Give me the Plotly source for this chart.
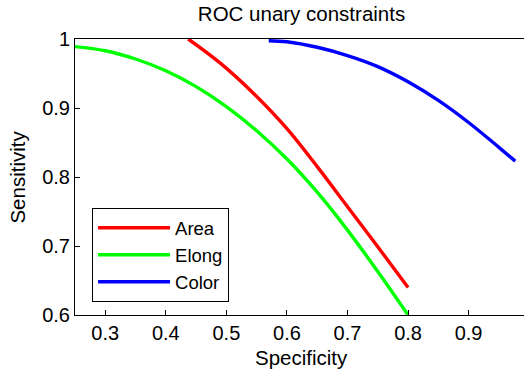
import plotly.graph_objects as go

# Data
area_x = [0.437, 0.49, 0.545, 0.60, 0.65, 0.70, 0.75, 0.80]
area_y = [1.0, 0.965, 0.921, 0.870, 0.815, 0.757, 0.699, 0.640]

elong_x = [0.25, 0.30, 0.35, 0.40, 0.45, 0.50, 0.55, 0.60, 0.65, 0.70, 0.75, 0.80]
elong_y = [0.989, 0.983, 0.971, 0.954, 0.931, 0.902, 0.867, 0.826, 0.778, 0.723, 0.663, 0.600]

color_x = [0.570, 0.60, 0.65, 0.70, 0.75, 0.80, 0.85, 0.90, 0.95, 0.977]
color_y = [0.9975, 0.996, 0.988, 0.976, 0.960, 0.938, 0.911, 0.879, 0.843, 0.823]

x_ticks = [0.3, 0.4, 0.5, 0.6, 0.7, 0.8, 0.9]
x_tick_labels = ["0.3", "0.4", "0.5", "0.6", "0.7", "0.8", "0.9"]
y_ticks = [0.6, 0.7, 0.8, 0.9, 1.0]
y_tick_labels = ["0.6", "0.7", "0.8", "0.9", "1"]

FONT = "Liberation Sans, Arial, Helvetica, sans-serif"

fig = go.Figure()
fig.add_trace(go.Scatter(x=area_x, y=area_y, mode="lines", name="Area",
                         line=dict(color="#ff0000", width=3.4, shape="spline")))
fig.add_trace(go.Scatter(x=elong_x, y=elong_y, mode="lines", name="Elong",
                         line=dict(color="#00ff00", width=3.4, shape="spline")))
fig.add_trace(go.Scatter(x=color_x, y=color_y, mode="lines", name="Color",
                         line=dict(color="#0000ff", width=3.4, shape="spline")))

fig.update_layout(
    width=524, height=370,
    margin=dict(l=75, r=0, t=39, b=55, autoexpand=False),
    paper_bgcolor="white", plot_bgcolor="white",
    font=dict(family=FONT, size=20, color="black"),
    title=dict(text="ROC unary constraints", x=0.5045, xref="paper",
               y=1 - 14 / 370, yref="container", yanchor="middle", xanchor="center",
               font=dict(size=20.5, color="black")),
    legend=dict(x=0.038, y=0.387, xanchor="left", yanchor="top",
                bordercolor="black", borderwidth=1, bgcolor="white",
                font=dict(size=18.5), itemwidth=72, tracegroupgap=0),
    xaxis=dict(range=[0.25, 0.9915], tickvals=x_ticks, ticktext=x_tick_labels,
               ticks="inside", ticklen=5, tickcolor="black",
               showline=True, linecolor="black", linewidth=1, mirror=True,
               showgrid=False, zeroline=False, automargin=False),
    yaxis=dict(range=[0.6, 1.0], tickvals=y_ticks, ticktext=y_tick_labels,
               ticks="inside", ticklen=5, tickcolor="black",
               showline=True, linecolor="black", linewidth=1, mirror=False,
               showgrid=False, zeroline=False, automargin=False),
    annotations=[
        dict(text="Specificity", xref="paper", yref="paper", x=0.5045, y=0,
             xanchor="center", yanchor="middle", yshift=-42, showarrow=False,
             font=dict(size=20.5)),
        dict(text="Sensitivity", xref="paper", yref="paper", x=0, y=0.498,
             xanchor="center", yanchor="middle", xshift=-57, textangle=-90,
             showarrow=False, font=dict(size=20.5)),
    ],
)

fig.write_html("out.html",
               config={"displayModeBar": False},
               post_script="document.body.style.margin='0';document.body.style.overflow='hidden';")
